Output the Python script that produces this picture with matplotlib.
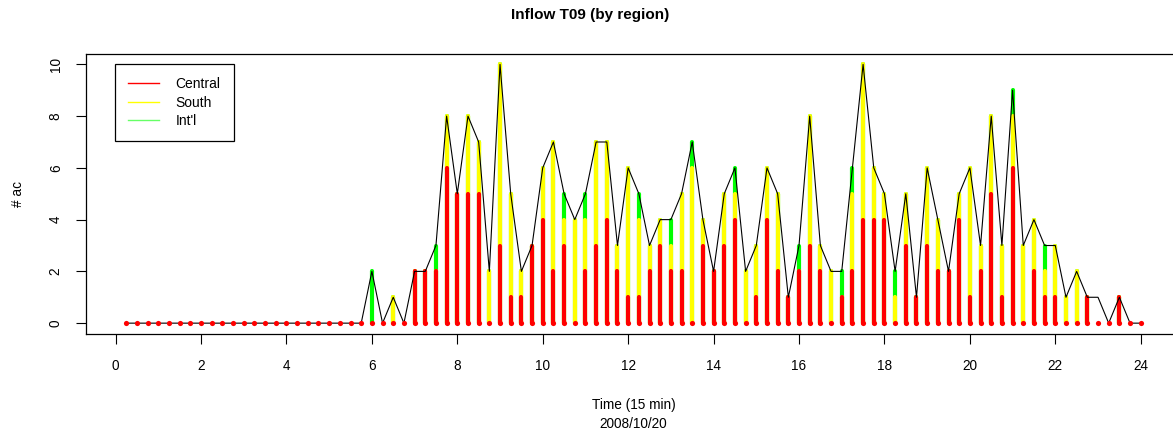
import matplotlib
matplotlib.use("Agg")
import matplotlib.pyplot as plt
import numpy as np

plt.rcParams['font.family'] = ['Liberation Sans', 'DejaVu Sans']

# time of day, one value per 15 min slot
t = np.arange(1, 97) * 0.25

# aircraft per slot, by region (00:15 .. 24:00)
central = [0] * 23 + [
    0, 0, 0, 0, 2, 2, 2, 6, 5, 5, 5, 0, 3, 1, 1, 3,
    4, 2, 3, 0, 2, 3, 4, 2, 1, 1, 2, 3, 2, 2, 0, 3,
    2, 3, 4, 0, 1, 4, 2, 1, 2, 3, 2, 0, 1, 2, 4, 4,
    4, 0, 3, 1, 3, 2, 2, 4, 1, 2, 5, 1, 6, 0, 2, 1,
    1, 0, 0, 1, 0, 0, 1, 0, 0]
south = [0] * 23 + [
    0, 0, 1, 0, 0, 0, 0, 2, 0, 3, 2, 2, 7, 4, 1, 0,
    2, 5, 1, 4, 2, 4, 3, 1, 5, 3, 1, 1, 1, 3, 6, 1,
    0, 2, 1, 2, 2, 2, 3, 0, 0, 5, 1, 2, 0, 3, 6, 2,
    1, 1, 2, 0, 3, 2, 0, 1, 5, 1, 3, 2, 2, 3, 2, 1,
    2, 1, 2, 0, 0, 0, 0, 0, 0]
intl = [0] * 23 + [
    2, 0, 0, 0, 0, 0, 1, 0, 0, 0, 0, 0, 0, 0, 0, 0,
    0, 0, 1, 0, 1, 0, 0, 0, 0, 1, 0, 0, 1, 0, 1, 0,
    0, 0, 1, 0, 0, 0, 0, 0, 1, 0, 0, 0, 1, 1, 0, 0,
    0, 1, 0, 0, 0, 0, 0, 0, 0, 0, 0, 0, 1, 0, 0, 1,
    0, 0, 0, 0, 0, 0, 0, 0, 0]
# flights in the total without a region (23:00)
other = [0] * 91 + [1] + [0] * 4

central = np.array(central)
south = np.array(south)
intl = np.array(intl)
total = central + south + intl + np.array(other)

fig = plt.figure(figsize=(11.73, 4.32), dpi=100)
W, H = 1173, 432
ax = fig.add_axes([85.7 / W, (H - 333.5) / H, (1181.3 - 85.7) / W, 279.5 / H])

lw = 3.0
ax.vlines(t, 0, central + south + intl, color='#00ff00', lw=lw, capstyle='round', zorder=2)
ax.vlines(t, 0, central + south, color='#ffff00', lw=lw, capstyle='round', zorder=3)
ax.vlines(t, 0, central, color='#ff0000', lw=lw, capstyle='round', zorder=4)
ax.plot(t, total, color='black', lw=0.8, zorder=5)
ax.scatter(t, np.zeros_like(t), s=14, color='#ff0000', lw=0, zorder=6)

ax.set_xlim(-0.7, 24.95)
ax.set_ylim(-0.4, 10.4)
ax.set_xticks(range(0, 25, 2))
ax.set_yticks(range(0, 11, 2))
ax.tick_params(direction='out', length=7.5, width=0.8, labelsize=9.8)
ax.tick_params(axis='x', pad=11)
ax.tick_params(axis='y', pad=9)
for lab in ax.get_yticklabels():
    lab.set_rotation(90)
    lab.set_va('center')
for s in ax.spines.values():
    s.set_linewidth(0.9)

fig.text(590 / W, 1 - 15 / H, 'Inflow T09 (by region)', ha='center', va='center',
         fontsize=11, fontweight='bold')
fig.text(633.5 / W, 1 - 405 / H, 'Time (15 min)', ha='center', va='center', fontsize=9.8)
fig.text(633.5 / W, 1 - 424 / H, '2008/10/20', ha='center', va='center', fontsize=9.8)
fig.text(18 / W, 1 - 193.7 / H, '# ac', ha='center', va='center', rotation=90, fontsize=9.8)

handles = [plt.Line2D([], [], color=c, lw=1) for c in ['#ff0000', '#ffff00', '#66ff66']]
leg = ax.legend(handles, ['Central', 'South', "Int'l"], loc='upper left',
                bbox_to_anchor=(115 / W, 1 - 64 / H), bbox_transform=fig.transFigure,
                borderaxespad=0, fontsize=10, handlelength=2.2, handletextpad=1.2,
                borderpad=0.95, labelspacing=0.32, fancybox=False, framealpha=1)
leg.get_frame().set_edgecolor('black')
leg.get_frame().set_linewidth(0.9)

fig.savefig('out.png', dpi=100)
